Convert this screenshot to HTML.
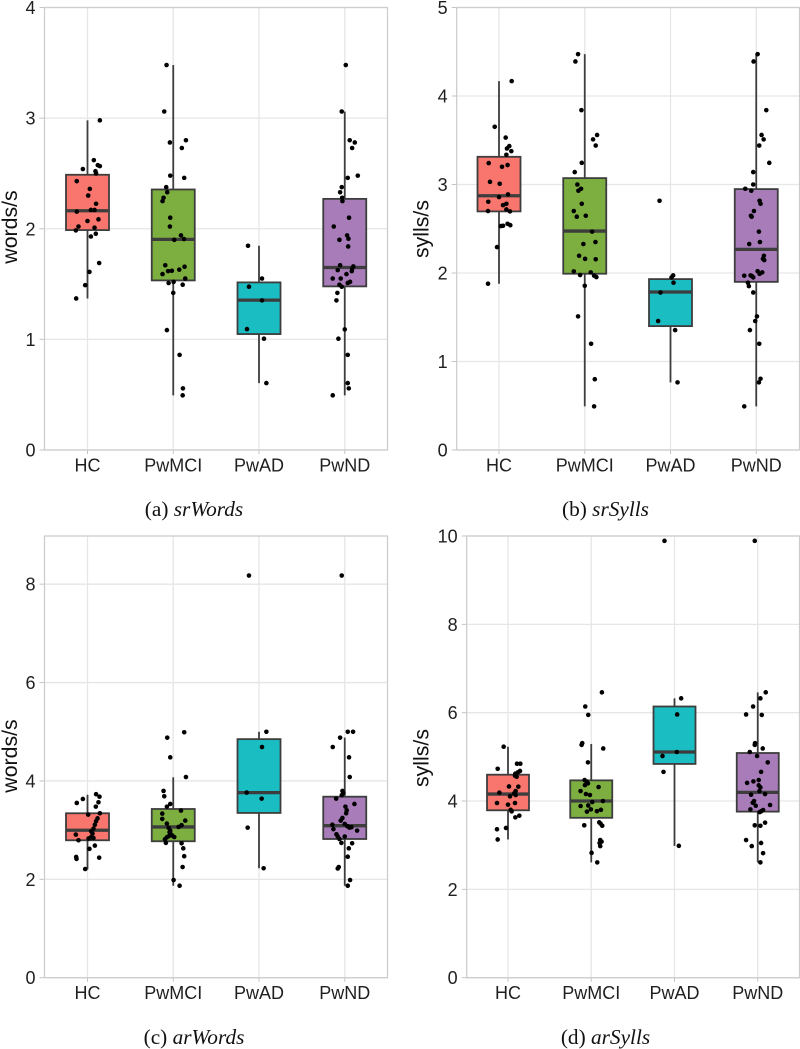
<!DOCTYPE html>
<html lang="en">
<head>
<meta charset="utf-8">
<title>Speech rate and articulation rate box plots</title>
<style>
html,body{margin:0;padding:0;background:#fff;}
#figure{display:block;width:800px;height:1049px;}
.tick-label{font:18px "Liberation Sans",sans-serif;fill:#1f1f1f;}
.axis-title{font:21.3px "Liberation Sans",sans-serif;fill:#111;}
.caption{font:21.3px "Liberation Serif",serif;fill:#111;text-anchor:middle;}
.caption tspan{font-style:italic;}
</style>
</head>
<body>
<svg id="figure" xmlns="http://www.w3.org/2000/svg" width="800" height="1049" viewBox="0 0 800 1049">
  <rect x="0" y="0" width="800" height="1049" fill="#fff"/>
  <g id="panel-a"></g>
  <g id="panel-b"></g>
  <g id="panel-c"></g>
  <g id="panel-d"></g>
  <text class="axis-title" text-anchor="middle" transform="translate(17,227) rotate(-90)">words/s</text>
  <text class="axis-title" text-anchor="middle" transform="translate(428.3,229) rotate(-90)">sylls/s</text>
  <text class="axis-title" text-anchor="middle" transform="translate(17,756) rotate(-90)">words/s</text>
  <text class="axis-title" text-anchor="middle" transform="translate(428.3,758) rotate(-90)">sylls/s</text>
  <text class="caption" x="194" y="516">(a) <tspan>srWords</tspan></text>
  <text class="caption" x="605.5" y="516">(b) <tspan>srSylls</tspan></text>
  <text class="caption" x="194" y="1044">(c) <tspan>arWords</tspan></text>
  <text class="caption" x="605.5" y="1044">(d) <tspan>arSylls</tspan></text>
</svg>
<script>
const categories = ['HC', 'PwMCI', 'PwAD', 'PwND'];
const groupColors = ['#F8766D', '#7CAF3F', '#19BDC2', '#A77CB8'];

/* (a) srWords */
const srWordsTicks = [0, 1, 2, 3, 4];
const srWordsQ1 = [1.988, 1.533, 1.048, 1.479];
const srWordsMedian = [2.163, 1.904, 1.355, 1.65];
const srWordsQ3 = [2.488, 2.355, 1.515, 2.27];
const srWordsWhiskerLow = [1.37, 0.494, 0.605, 0.494];
const srWordsWhiskerHigh = [2.98, 3.48, 1.846, 3.06];
const srWordsValues = [
  [2.98,2.62,2.575,2.566,2.54,2.52,2.5,2.43,2.36,2.3,2.226,2.17,2.17,2.155,2.085,2.07,2.02,2.01,1.985,1.955,1.93,1.69,1.61,1.49,1.37],
  [3.48,3.06,2.8,2.78,2.73,2.48,2.46,2.376,2.33,2.28,2.25,2.1,2.02,1.94,1.9,1.907,1.67,1.657,1.63,1.62,1.617,1.59,1.55,1.52,1.51,1.494,1.42,1.084,0.86,0.557,0.494],
  [1.846,1.55,1.476,1.352,1.093,1.006,0.605],
  [3.48,3.06,2.8,2.78,2.73,2.48,2.46,2.376,2.33,2.28,2.25,2.1,2.02,1.94,1.91,1.9,1.84,1.67,1.66,1.64,1.626,1.617,1.59,1.55,1.55,1.52,1.51,1.494,1.476,1.42,1.352,1.09,1.006,0.86,0.605,0.557,0.494]
];
const srWordsJitter = [
  [.144,.074,.12,.144,-.054,.093,.1,-.125,.027,.008,.1,.04,.082,-.125,.128,0,-.105,.082,-.136,.097,.04,.136,.023,-.027,-.132],
  [-.078,-.105,.148,-.039,.1,-.035,.128,-.082,-.07,-.113,-.125,-.035,-.039,.09,.012,.125,-.093,.132,.07,-.016,-.06,-.125,.14,.004,-.054,.11,0,-.074,.074,.113,.11],
  [-.128,.035,-.117,.035,-.14,.058,.086],
  [.012,-.035,.058,.117,.086,.152,.035,-.035,-.054,-.03,-.027,.05,-.128,.027,.043,-.062,.04,-.054,.1,.086,-.082,.082,.02,-.14,-.047,.062,.035,-.062,-.035,-.086,-.097,0,-.074,.035,.035,.047,-.14]
];

/* (b) srSylls */
const srSyllsTicks = [0, 1, 2, 3, 4, 5];
const srSyllsQ1 = [2.696, 1.992, 1.4, 1.9];
const srSyllsMedian = [2.873, 2.474, 1.785, 2.267];
const srSyllsQ3 = [3.313, 3.072, 1.931, 2.948];
const srSyllsWhiskerLow = [1.879, 0.493, 0.764, 0.493];
const srSyllsWhiskerHigh = [4.168, 4.473, 1.95, 4.473];
const srSyllsValues = [
  [4.168,3.652,3.53,3.434,3.407,3.377,3.336,3.242,3.22,3.2,3.03,3.008,2.888,2.858,2.805,2.782,2.767,2.718,2.7,2.696,2.556,2.54,2.53,2.534,2.293,1.879],
  [4.473,4.39,3.84,3.56,3.51,3.44,3.245,3.14,3,2.952,2.93,2.782,2.7,2.636,2.647,2.467,2.35,2.327,2.195,2.16,2.155,2.018,1.977,2.007,1.97,1.954,1.856,1.51,1.2,0.8,0.493],
  [2.816,1.973,1.95,1.89,1.78,1.457,1.355,0.764],
  [4.473,4.39,3.84,3.56,3.51,3.44,3.245,3.14,3,2.952,2.93,2.816,2.782,2.7,2.647,2.636,2.467,2.35,2.327,2.195,2.16,2.146,2.02,2.007,1.99,1.97,1.973,1.965,1.95,1.89,1.852,1.78,1.51,1.457,1.355,1.2,0.805,0.764,0.493]
];
const srSyllsJitter = [
  [.148,-.05,.078,.12,.093,.144,.086,-.12,.1,.035,-.105,.008,.105,0,-.125,.086,.047,.086,-.128,.128,.1,.132,.023,.047,-.023,-.128],
  [-.078,-.109,-.039,.144,.097,.128,-.035,-.117,-.086,-.043,-.074,-.035,-.128,-.093,.012,.086,.125,-.016,-.066,.004,.128,-.128,-.054,.07,.109,.136,0,-.078,.074,.117,.109],
  [-.128,.031,.012,.035,-.117,-.144,.054,.082],
  [.016,-.031,.117,.062,.086,.035,.152,-.035,-.035,-.128,-.058,.039,.05,-.027,-.062,-.054,.031,.043,-.082,.089,.078,.093,.016,.07,.039,-.14,-.066,-.05,-.035,-.097,-.086,-.035,.008,-.012,-.074,.035,.05,.031,-.14]
];

/* (c) arWords */
const arWordsTicks = [0, 2, 4, 6, 8];
const arWordsQ1 = [2.794, 2.774, 3.35, 2.82];
const arWordsMedian = [2.997, 3.065, 3.763, 3.09];
const arWordsQ3 = [3.343, 3.43, 4.85, 3.68];
const arWordsWhiskerLow = [2.2, 1.87, 2.225, 1.87];
const arWordsWhiskerHigh = [3.72, 4.075, 5, 4.88];
const arWordsValues = [
  [3.73,3.68,3.634,3.553,3.566,3.478,3.343,3.316,3.24,3.18,3.11,3.03,2.977,2.91,2.84,2.855,2.83,2.794,2.62,2.686,2.455,2.415,2.44,2.21,2.93],
  [4.99,4.88,4.48,4.08,3.797,3.688,3.532,3.478,3.397,3.336,3.228,3.194,3.133,3.1,3.065,3.045,2.99,2.91,2.88,2.86,2.855,2.814,2.74,2.733,2.63,2.47,2.25,1.986,1.87,2.96,2.89],
  [8.176,5,4.69,3.763,3.64,3.05,2.225],
  [8.176,5,5,4.88,4.69,4.48,4.08,3.797,3.756,3.71,3.64,3.478,3.532,3.404,3.343,3.248,3.194,3.11,3.126,3.08,3.06,3.05,3.02,2.99,2.916,2.87,2.82,2.87,2.74,2.733,2.63,2.46,2.25,2.22,1.986,1.87]
];
const arWordsJitter = [
  [.1,.14,-.054,-.125,.128,.097,.144,.008,.117,.1,.086,.07,.043,-.136,.07,.04,.012,-.105,.023,.086,-.132,-.128,.136,-.027,.058],
  [.128,-.07,-.035,.148,-.113,-.105,-.035,-.074,.09,-.128,-.128,.14,-.074,.097,.062,-.054,-.035,-.023,-.05,.012,-.074,-.097,-.086,.097,.117,.128,.109,.004,.074,-.043,-.012],
  [-.117,.086,.035,-.144,.031,-.132,.054],
  [-.035,.035,.097,-.054,-.14,.05,.058,-.027,-.016,-.035,-.1,.008,.113,.023,.016,-.027,-.047,-.144,0,.031,.078,.054,-.132,.144,-.097,-.082,-.062,0,-.039,.086,.047,.035,-.07,-.082,.062,.035]
];

/* (d) arSylls */
const arSyllsTicks = [0, 2, 4, 6, 8, 10];
const arSyllsQ1 = [3.79, 3.62, 4.84, 3.76];
const arSyllsMedian = [4.158, 4, 5.11, 4.196];
const arSyllsQ3 = [4.596, 4.468, 6.14, 5.087];
const arSyllsWhiskerLow = [3.13, 2.61, 2.985, 2.61];
const arSyllsWhiskerHigh = [5.23, 5.29, 6.325, 6.46];
const arSyllsValues = [
  [5.23,4.73,4.845,4.845,4.68,4.65,4.62,4.574,4.55,4.325,4.33,4.226,4.19,4.17,4.106,4.136,3.955,3.955,3.917,3.8,3.766,3.668,3.63,3.39,3.36,3.13],
  [6.46,6.14,5.95,5.31,5.27,5.19,4.875,4.475,4.44,4.4,4.36,4.317,4.226,4.158,4.136,3.977,4,3.887,3.9,3.77,3.8,3.81,3.76,3.45,3.517,3.487,3.44,3.117,3.08,3.05,2.98,2.827,2.61],
  [9.89,6.325,5.96,5.11,5.02,4.66,2.985],
  [9.89,6.46,6.325,6.14,5.96,5.95,5.31,5.27,5.19,5.11,5.02,4.875,4.66,4.41,4.445,4.475,4.355,4.31,4.226,4.143,4.158,4,3.96,3.894,3.91,3.81,3.796,3.766,3.75,3.51,3.45,3.44,3.117,3.05,2.98,2.82,2.61]
];
const arSyllsJitter = [
  [-.052,-.124,.108,.148,.144,.12,.088,.084,.104,.124,.012,.092,-.104,.072,.024,.092,-.132,.084,0,.032,.044,.136,.088,-.024,-.132,-.124],
  [.128,-.072,-.036,-.108,-.116,.144,-.04,-.08,-.056,-.04,-.076,.088,-.128,-.064,-.016,.012,.14,-.128,-.036,.068,.116,-.004,-.052,-.084,.096,.112,.132,.108,.124,.1,.108,.004,.072],
  [-.12,.08,.032,.028,-.144,-.132,.052],
  [-.036,.096,.032,-.056,-.14,.048,-.032,-.036,.06,-.096,-.008,.12,.04,-.128,-.052,.012,.012,.032,.02,-.08,.088,-.044,-.06,-.024,.148,-.088,.064,.04,.024,.088,-.036,.032,-.14,.04,-.072,.064,.032]
];

const NS = 'http://www.w3.org/2000/svg';

function shape(parent, tag, attrs) {
  const el = document.createElementNS(NS, tag);
  Object.keys(attrs).forEach(function (k) { el.setAttribute(k, attrs[k]); });
  parent.appendChild(el);
  return el;
}

function drawPanel(cfg) {
  const g = document.getElementById(cfg.id);
  const yScale = function (v) { return cfg.bottom - (v / cfg.yMax) * (cfg.bottom - cfg.top); };
  const xScale = function (i) { return cfg.firstX + i * cfg.stepX; };

  cfg.ticks.forEach(function (t) {
    const y = yScale(t);
    const grid = shape(g, 'line', { x1: cfg.left, x2: cfg.right, y1: y, y2: y, stroke: '#e6e6e6', 'stroke-width': 1.3 });
    
    
    const tick = shape(g, 'line', { x1: cfg.left - 5, x2: cfg.left, y1: y, y2: y, stroke: '#c4c4c4', 'stroke-width': 1 });
    
    
    const label = shape(g, 'text', { x: cfg.left - 9, y: y + 6.5, 'text-anchor': 'end', class: 'tick-label' });
    label.textContent = String(t);
    
    
  });

  categories.forEach(function (name, i) {
    const x = xScale(i);
    const grid = shape(g, 'line', { x1: x, x2: x, y1: cfg.top, y2: cfg.bottom, stroke: '#e6e6e6', 'stroke-width': 1.3 });
    
    
    const tick = shape(g, 'line', { x1: x, x2: x, y1: cfg.bottom, y2: cfg.bottom + 4, stroke: '#c4c4c4', 'stroke-width': 1 });
    
    
    const label = shape(g, 'text', { x: x, y: cfg.bottom + 21.5, 'text-anchor': 'middle', class: 'tick-label' });
    label.textContent = name;
    
    
  });

  const frame = shape(g, 'rect', { x: cfg.left, y: cfg.top, width: cfg.right - cfg.left, height: cfg.bottom - cfg.top, fill: 'none', stroke: '#cdcdcd', 'stroke-width': 1.3 });
  
  

  categories.forEach(function (name, i) {
    const x = xScale(i);
    const whisker = shape(g, 'line', { x1: x, x2: x, y1: yScale(cfg.whiskerHigh[i]), y2: yScale(cfg.whiskerLow[i]), stroke: '#3d3d3d', 'stroke-width': 1.8 });
    
    
    const box = shape(g, 'rect', { x: x - cfg.boxWidth / 2, y: yScale(cfg.q3[i]), width: cfg.boxWidth, height: yScale(cfg.q1[i]) - yScale(cfg.q3[i]), fill: groupColors[i], stroke: '#3d3d3d', 'stroke-width': 1.8 });
    
    
    const median = shape(g, 'line', { x1: x - cfg.boxWidth / 2, x2: x + cfg.boxWidth / 2, y1: yScale(cfg.median[i]), y2: yScale(cfg.median[i]), stroke: '#3d3d3d', 'stroke-width': 3.3 });
    
    
  });

  categories.forEach(function (name, i) {
    cfg.values[i].forEach(function (v, j) {
      const dot = shape(g, 'circle', { cx: xScale(i) + cfg.jitter[i][j] * cfg.stepX, cy: yScale(v), r: 2.3, fill: '#000' });
      
      
    });
  });
}

drawPanel({ id: 'panel-a', left: 44.5, right: 387.5, top: 7.5, bottom: 450, firstX: 87.5, stepX: 85.75, boxWidth: 43, yMax: 4,
  ticks: srWordsTicks, q1: srWordsQ1, median: srWordsMedian, q3: srWordsQ3, whiskerLow: srWordsWhiskerLow, whiskerHigh: srWordsWhiskerHigh, values: srWordsValues, jitter: srWordsJitter });
drawPanel({ id: 'panel-b', left: 456.7, right: 799.5, top: 7.5, bottom: 450, firstX: 499, stepX: 85.75, boxWidth: 43, yMax: 5,
  ticks: srSyllsTicks, q1: srSyllsQ1, median: srSyllsMedian, q3: srSyllsQ3, whiskerLow: srSyllsWhiskerLow, whiskerHigh: srSyllsWhiskerHigh, values: srSyllsValues, jitter: srSyllsJitter });
drawPanel({ id: 'panel-c', left: 44.5, right: 387.5, top: 536, bottom: 977.7, firstX: 87.5, stepX: 85.75, boxWidth: 43, yMax: 8.98,
  ticks: arWordsTicks, q1: arWordsQ1, median: arWordsMedian, q3: arWordsQ3, whiskerLow: arWordsWhiskerLow, whiskerHigh: arWordsWhiskerHigh, values: arWordsValues, jitter: arWordsJitter });
drawPanel({ id: 'panel-d', left: 466.7, right: 799.5, top: 536, bottom: 977.7, firstX: 508, stepX: 83.25, boxWidth: 42, yMax: 10,
  ticks: arSyllsTicks, q1: arSyllsQ1, median: arSyllsMedian, q3: arSyllsQ3, whiskerLow: arSyllsWhiskerLow, whiskerHigh: arSyllsWhiskerHigh, values: arSyllsValues, jitter: arSyllsJitter });
</script>
</body>
</html>
